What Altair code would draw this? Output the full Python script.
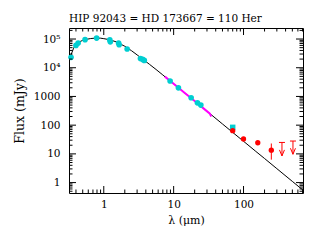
import altair as alt
import pandas as pd

# ---- data ----
# photospheric model (black curve)
line_lam = [0.32, 0.34, 0.37, 0.40, 0.45, 0.50, 0.56, 0.65, 0.78, 0.90, 1.0, 1.2, 1.5, 2.0, 2.5, 3.0,
            3.6, 4.5, 5.6, 7.0, 10, 15, 20, 30, 50, 70, 100, 150, 200, 300, 500, 720]
line_flux = [1.7e4, 2.8e4, 4.8e4, 6.5e4, 8.0e4, 9.0e4, 9.7e4, 1.04e5, 1.08e5, 1.07e5, 1.03e5, 9.5e4,
             8.0e4, 5.6e4, 3.9e4, 2.8e4, 2.0e4, 1.32e4, 8.7e3, 5.6e3, 2750, 1220, 690, 306, 110, 56,
             27.5, 12.2, 6.9, 3.06, 1.1, 0.53]

# IRS spectrum (magenta)
spec_lam = [7.5, 10, 14, 20, 27, 33, 34, 35]
spec_flux = [4900, 2750, 1400, 690, 377, 250, 215, 225]

# photometry (cyan)
phot_lam = [0.34, 0.40, 0.43, 0.54, 0.79, 1.22, 1.24, 1.63, 1.66, 2.16, 3.35, 3.6, 3.8,
            8.9, 11.7, 17.8, 21.9, 24.5]
phot_flux = [2.3e4, 6.0e4, 7.2e4, 9.5e4, 1.08e5, 9.3e4, 8.0e4, 7.2e4, 6.3e4, 4.5e4, 2.1e4, 1.95e4, 1.8e4,
             3440, 2000, 900, 600, 500]
phot_lo = [2.1e4, 5.4e4, 6.5e4, 8.6e4, 1.0e5, 8.3e4, 6.9e4, 6.4e4, 5.6e4, 3.8e4, 1.95e4, 1.85e4, 1.7e4,
           3300, 1900, 860, 570, 475]
phot_hi = [2.5e4, 6.6e4, 7.9e4, 1.04e5, 1.16e5, 1.05e5, 9.2e4, 8.0e4, 7.1e4, 5.2e4, 2.25e4, 2.05e4, 1.9e4,
           3600, 2100, 940, 630, 525]
sq_lam = [70]
sq_flux = [84]

# far-IR photometry (red)
red_lam = [70, 100, 160, 250]
red_flux = [64, 33, 24.4, 13.5]
red_lo = [64, 33, 24.4, 6.3]
red_hi = [64, 33, 24.4, 23]

# upper limits (red arrows)
ul_lam = [355, 510]
ul_top = [25, 28]
ul_tip = [8.5, 9.7]

# axis ticks
x_major = [1, 10, 100]
x_minor = [m * d for d in [0.1, 1, 10, 100] for m in range(2, 10) if 0.32 < m * d < 710]
y_major = [1, 10, 100, 1000, 10000, 100000]
y_minor = [m * d for d in [0.1, 1, 10, 100, 1000, 10000, 100000] for m in range(2, 10) if 0.43 < m * d < 2.4e5]

W, H = 234, 165
FONT = "DejaVu Serif"
FS = 10.5
CYAN = "#00ced1"
RED = "#ff0000"
MAJ, MIN = 7, 3.5

xscale = alt.Scale(type="log", domain=[0.318, 710], nice=False)
yscale = alt.Scale(type="log", domain=[0.434, 2.42e5], nice=False)
xaxis = alt.Axis(values=x_major, format="d", ticks=False, domain=False, grid=False,
                 labelPadding=6, title="λ (μm)", titlePadding=5, labelFlush=False,
                 titleFontSize=11)
yaxis = alt.Axis(values=y_major,
                 labelExpr="datum.value == 100000 ? '10⁵' : (datum.value == 10000 ? '10⁴' : format(datum.value, 'd'))",
                 ticks=False, domain=False, grid=False, labelPadding=9,
                 title="Flux (mJy)", titlePadding=7, labelFlush=False, titleFontSize=12.5)


def X(f):
    return alt.X(f"{f}:Q", scale=xscale, axis=xaxis)


def Y(f):
    return alt.Y(f"{f}:Q", scale=yscale, axis=yaxis)


df_line = pd.DataFrame({"lam": line_lam, "flux": line_flux})
df_spec = pd.DataFrame({"lam": spec_lam, "flux": spec_flux})
df_phot = pd.DataFrame({"lam": phot_lam, "flux": phot_flux, "lo": phot_lo, "hi": phot_hi})
df_sq = pd.DataFrame({"lam": sq_lam, "flux": sq_flux})
df_red = pd.DataFrame({"lam": red_lam, "flux": red_flux, "lo": red_lo, "hi": red_hi})
df_ul = pd.DataFrame({"lam": ul_lam, "top": ul_top, "tip": ul_tip})
df_xmaj = pd.DataFrame({"v": x_major})
df_xmin = pd.DataFrame({"v": x_minor})
df_ymaj = pd.DataFrame({"v": y_major})
df_ymin = pd.DataFrame({"v": y_minor})

layers = []
layers.append(alt.Chart(df_line).mark_line(color="black", strokeWidth=1, clip=True)
              .encode(x=X("lam"), y=Y("flux")))
layers.append(alt.Chart(df_spec).mark_line(color="#ff00ff", strokeWidth=2, clip=True)
              .encode(x=X("lam"), y=Y("flux")))
layers.append(alt.Chart(df_sq).mark_square(color=CYAN, size=30, opacity=1)
              .encode(x=X("lam"), y=Y("flux")))
layers.append(alt.Chart(df_phot).mark_rule(color=CYAN, strokeWidth=1.5)
              .encode(x=X("lam"), y=Y("lo"), y2="hi:Q"))
layers.append(alt.Chart(df_phot).mark_circle(color=CYAN, size=32, opacity=1)
              .encode(x=X("lam"), y=Y("flux")))
layers.append(alt.Chart(df_red).mark_rule(color=RED, strokeWidth=1)
              .encode(x=X("lam"), y=Y("lo"), y2="hi:Q"))
layers.append(alt.Chart(df_red).mark_circle(color=RED, size=28, opacity=1)
              .encode(x=X("lam"), y=Y("flux")))
layers.append(alt.Chart(df_ul).mark_rule(color=RED, strokeWidth=1)
              .encode(x=X("lam"), y=Y("top"), y2="tip:Q"))
layers.append(alt.Chart(df_ul).mark_point(shape="M-1,0L1,0", size=36, filled=False,
                                          color=RED, strokeWidth=1, opacity=1)
              .encode(x=X("lam"), y=Y("top")))
layers.append(alt.Chart(df_ul).mark_point(shape="M-1,-2.4L0,0L1,-2.4", size=25, filled=False,
                                          color=RED, strokeWidth=1, opacity=1)
              .encode(x=X("lam"), y=Y("tip")))

# inward ticks on all four sides
for df, ln in [(df_xmaj, MAJ), (df_xmin, MIN)]:
    layers.append(alt.Chart(df).mark_rule(color="black", strokeWidth=1)
                  .encode(x=X("v"), y=alt.value(H), y2=alt.value(H - ln)))
    layers.append(alt.Chart(df).mark_rule(color="black", strokeWidth=1)
                  .encode(x=X("v"), y=alt.value(0), y2=alt.value(ln)))
for df, ln in [(df_ymaj, MAJ), (df_ymin, MIN)]:
    layers.append(alt.Chart(df).mark_rule(color="black", strokeWidth=1)
                  .encode(y=Y("v"), x=alt.value(0), x2=alt.value(ln)))
    layers.append(alt.Chart(df).mark_rule(color="black", strokeWidth=1)
                  .encode(y=Y("v"), x=alt.value(W), x2=alt.value(W - ln)))

chart = (
    alt.layer(*layers)
    .properties(
        width=W, height=H,
        title=alt.TitleParams("HIP 92043 = HD 173667 = 110 Her", anchor="start", frame="group",
                              font=FONT, fontSize=FS, fontWeight="normal", offset=3, color="black"),
        padding={"left": 61, "top": 20, "right": 8, "bottom": 40},
        autosize=alt.AutoSizeParams(type="none"),
    )
    .configure_view(stroke="black", strokeWidth=1)
    .configure_axis(labelFont=FONT, titleFont=FONT, labelFontSize=FS,
                    labelColor="black", titleColor="black", titleFontWeight="normal")
)

chart.save("out.html", embed_options={"renderer": "svg", "actions": False})
